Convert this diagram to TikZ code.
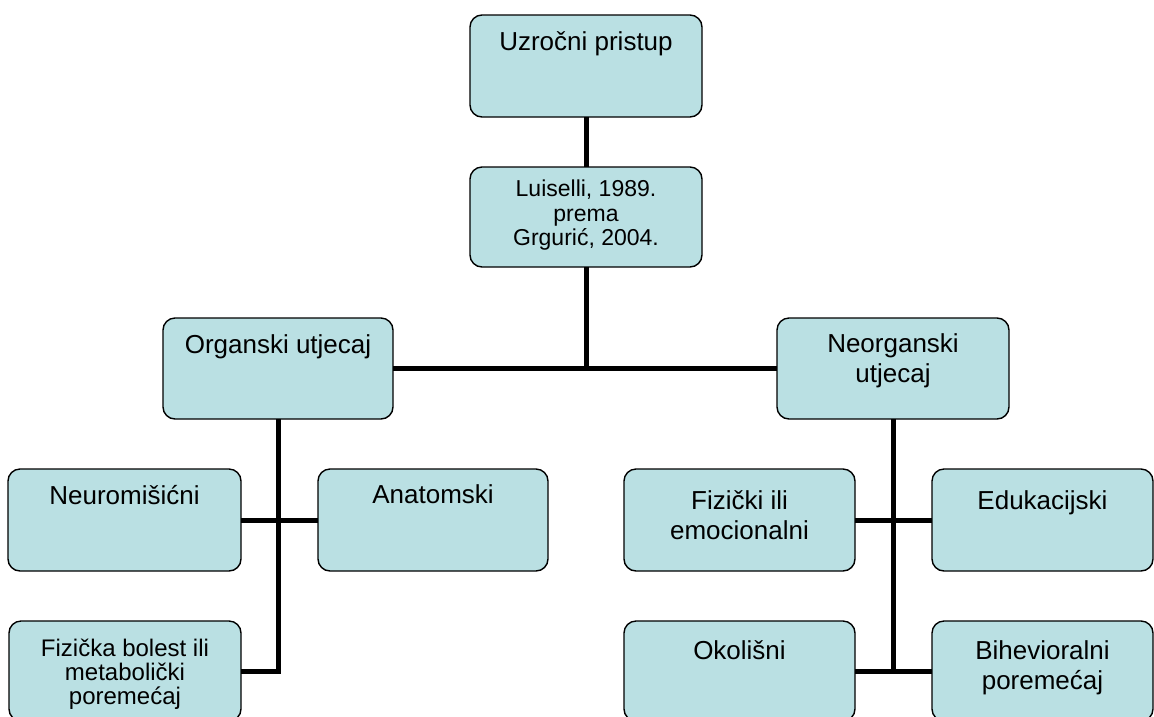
\documentclass[tikz,border=0pt]{standalone}
\usepackage{fontspec}
\setmainfont{Liberation Sans}
\definecolor{boxfill}{HTML}{BAE0E3}
\tikzset{
  box/.style={draw=black, line width=1.4pt, fill=boxfill, rounded corners=12pt,
    rectangle, inner sep=0pt, outer sep=0pt},
  link/.style={draw=black, line width=5pt},
}
% #1 name #2 cx #3 cy #4 w #5 h #6 size #7 skip #8 first-baseline #9 text
\newcommand{\bx}[9]{%
  \node[box, minimum width=#4pt, minimum height=#5pt] (#1) at (#2,#3)
  {\parbox[c][#5pt][t]{#4pt}{\centering\fontsize{#6pt}{#7pt}\selectfont\rule{0pt}{#8pt}#9\par}};}
\begin{document}
\begin{tikzpicture}[x=1pt,y=-1pt]
\useasboundingbox (0,0) rectangle (1154,716);
% boxes
\bx{top}{586}{66}{232}{102}{26}{30}{35}{Uzročni pristup}
\bx{lu}{586}{217}{232}{100}{23}{24.5}{29.5}{Luiselli, 1989.\\prema\\Grgurić, 2004.}
\bx{org}{278}{368.5}{230}{101}{26}{30}{35}{Organski utjecaj}
\bx{neo}{893}{368.5}{232}{101}{26}{30}{34}{Neorganski\\utjecaj}
\bx{neu}{124.5}{520}{233}{102}{26}{30}{35}{Neuromišićni}
\bx{ana}{433}{520}{230}{102}{26}{30}{34}{Anatomski}
\bx{fiz}{739.5}{520}{231}{102}{26}{30}{40}{Fizički ili\\emocionalni}
\bx{edu}{1042.5}{520}{221}{102}{26}{30}{40}{Edukacijski}
\bx{fb}{125}{671}{232}{100}{24}{24}{35}{Fizička bolest ili\\metabolički\\poremećaj}
\bx{oko}{739.5}{671}{231}{100}{26}{30}{38}{Okolišni}
\bx{bih}{1042.5}{671}{221}{100}{26}{30}{38}{Bihevioralni\\poremećaj}
% connectors
\coordinate (j1) at (lu.south |- org.east);
\coordinate (jl) at (org.south |- fb.east);
\coordinate (jr) at (neo.south |- oko.east);
\draw[link] (top.south) -- (lu.north);
\draw[link] (lu.south) -- (j1);
\draw[link] (org.east) -- (neo.west);
\draw[link] (org.south) -- (jl) -- (fb.east);
\draw[link] (neu.east) -- (ana.west);
\draw[link] (neo.south) -- (jr);
\draw[link] (fiz.east) -- (edu.west);
\draw[link] (oko.east) -- (bih.west);
\end{tikzpicture}
\end{document}
